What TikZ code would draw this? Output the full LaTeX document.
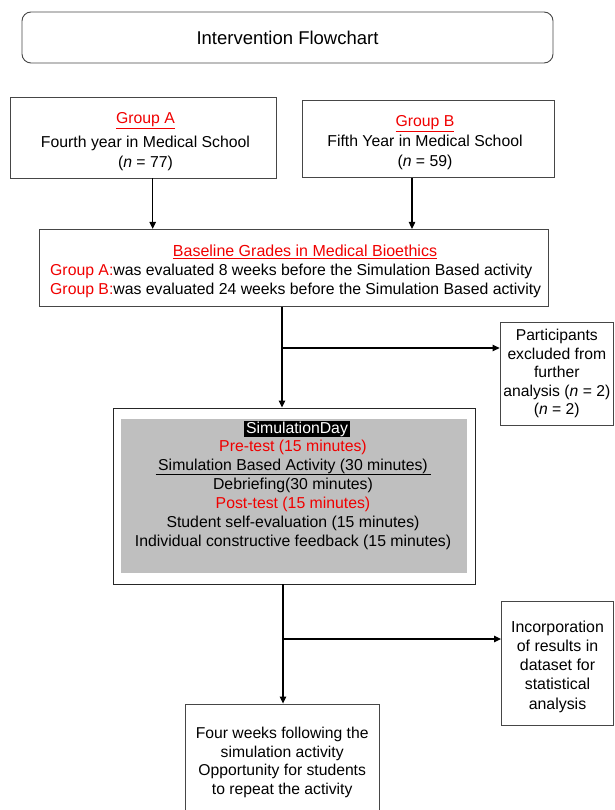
\documentclass[tikz,border=0pt]{standalone}
\usepackage{fontspec}
\setmainfont{Liberation Sans}
\usetikzlibrary{arrows.meta,calc}
\definecolor{redtxt}{RGB}{240,0,0}
\definecolor{simgray}{RGB}{191,191,191}
\definecolor{boxline}{RGB}{70,70,70}
\begin{document}
\begin{tikzpicture}[x=1pt,y=-1pt,
  txt/.style={font=\fontsize{15.8}{19}\selectfont, inner sep=0pt, align=center},
  box/.style={draw=boxline, line width=0.9pt, inner sep=0pt, align=center, font=\fontsize{15.8}{19}\selectfont},
  arr/.style={line width=1.1pt, -{Triangle[length=7pt,width=6.5pt]}}]
\useasboundingbox (0,0) rectangle (614,810);

\node[box, rounded corners=9pt, minimum width=531pt, minimum height=51pt, font=\fontsize{18.5}{22}\selectfont] (title) at (287.5,37.5) {Intervention Flowchart};

\node[box, minimum width=266pt, minimum height=81pt] (gA) at (143.8,137.5) {};
\node[txt, font=\fontsize{15.8}{20}\selectfont] (gAt) at (145.5,141.5) {\textcolor{redtxt}{\underline{Group A}}\\[4pt] Fourth year in Medical School\\ (\textit{n} = 77)};
\node[box, minimum width=252pt, minimum height=77.3pt] (gB) at (428,139.3) {};
\node[txt, font=\fontsize{15.8}{20}\selectfont] (gBt) at (425,142.5) {\textcolor{redtxt}{\underline{Group B}}\\ Fifth Year in Medical School\\ (\textit{n} = 59)};

\node[box, minimum width=508.3pt, minimum height=76.7pt] (base) at (293.8,267.7) {};
\node[txt, font=\fontsize{16}{19}\selectfont] (baseT) at (305,251.5) {\textcolor{redtxt}{\underline{Baseline Grades in Medical Bioethics}}};
\node[txt, anchor=west, align=left, font=\fontsize{15.8}{19}\selectfont] (baseL) at (50,281) {\textcolor{redtxt}{Group A:}was evaluated 8 weeks before the Simulation Based activity\\ \textcolor{redtxt}{Group B:}was evaluated 24 weeks before the Simulation Based activity};

\node[box, minimum width=113.5pt, minimum height=103pt, font=\fontsize{15.7}{18.5}\selectfont] (excl) at (556.8,373.5) {Participants\\ excluded from\\ further\\ analysis (\textit{n} = 2)\\ (\textit{n} = 2)};

\node[draw=black!85, line width=0.9pt, minimum width=362pt, minimum height=176pt, inner sep=0pt] (sim) at (294,496) {};
\node[fill=simgray, minimum width=346pt, minimum height=154pt, inner sep=0pt] (simbg) at (294,496) {};
\node[txt, fill=black, text=white, inner xsep=2pt, inner ysep=1pt] (sday) at (297,429) {SimulationDay};
\node[txt, text=redtxt] (pre) at (293,447.5) {Pre-test (15 minutes)};
\node[txt] (act) at (293,466) {Simulation Based Activity (30 minutes)};
\draw[line width=1.2pt] ([xshift=-2.5pt,yshift=-4.5pt]act.base west) -- ([xshift=2.5pt,yshift=-4.5pt]act.base east);
\node[txt] (deb) at (293,485) {Debriefing(30 minutes)};
\node[txt, text=redtxt] (post) at (293,504) {Post-test (15 minutes)};
\node[txt] (self) at (293,523) {Student self-evaluation (15 minutes)};
\node[txt] (fb) at (293,542) {Individual constructive feedback (15 minutes)};

\node[box, minimum width=112pt, minimum height=123.3pt] (inc) at (557.5,663.3) {};
\node[txt, font=\fontsize{15.9}{19.3}\selectfont] (inct) at (557.5,666.5) {Incorporation\\ of results in\\ dataset for\\ statistical\\ analysis};

\node[box, minimum width=194.3pt, minimum height=112pt] (four) at (282.2,760) {};
\node[txt, font=\fontsize{15.7}{18.8}\selectfont] (fourt) at (282.2,762.5) {Four weeks following the\\ simulation activity\\ Opportunity for students\\ to repeat the activity};

\draw[arr] ([xshift=8.9pt]gA.south) -- ([xshift=8.9pt]gA.south |- base.north);
\draw[arr] ([xshift=-16pt]gB.south) -- ([xshift=-16pt]gB.south |- base.north);
\coordinate (j1) at (282,348);
\draw[arr] (base.south -| j1) -- (j1 |- sim.north);
\draw[arr] (j1) -- (j1 -| excl.west);
\coordinate (j2) at (283,639);
\draw[arr] (sim.south -| j2) -- (j2 |- four.north);
\draw[arr] (j2) -- (j2 -| inc.west);
\end{tikzpicture}
\end{document}
